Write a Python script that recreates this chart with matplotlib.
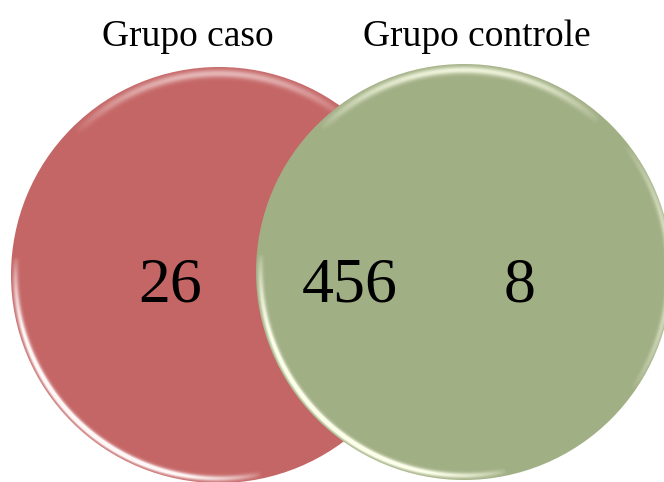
import numpy as np
import matplotlib.pyplot as plt
from matplotlib.patches import Circle

# conjuntos e contagens
grupos = ["Grupo caso", "Grupo controle"]
so_caso = 26
ambos = 456
so_controle = 8

cor_caso = "#C56666"
cor_controle = "#A1AF85"

W, H = 664, 482
fig = plt.figure(figsize=(W / 100, H / 100), dpi=100)
ax = fig.add_axes([0, 0, 1, 1])
ax.set_xlim(0, W)
ax.set_ylim(H, 0)
ax.set_aspect("equal")
ax.axis("off")

yy, xx = np.mgrid[0:H, 0:W] + 0.5


def brilho(cx, cy, r, faixas, cor):
    # faixa clara junto à borda (efeito de bisel), como imagem RGBA
    d = np.hypot(xx - cx, yy - cy)
    ang = np.degrees(np.arctan2(yy - cy, xx - cx)) % 360
    alfa = np.zeros_like(d)
    for t0, t1, recuo, larg, amax, expo in faixas:
        a = (ang - t0) % 360
        dentro = a <= (t1 - t0)
        perfil = np.where(dentro, np.sin(np.pi * np.clip(a / (t1 - t0), 0, 1)) ** expo, 0)
        radial = np.exp(-0.5 * ((d - (r - recuo)) / larg) ** 2)
        alfa = np.maximum(alfa, np.clip(amax * perfil * radial, 0, 1))
    img = np.zeros((H, W, 4))
    img[..., :3] = cor
    img[..., 3] = alfa
    return img


def circulo(cx, cy, r, cor, z, faixas, cor_brilho):
    disco = Circle((cx, cy), r, facecolor=cor, edgecolor="none", zorder=z)
    ax.add_patch(disco)
    im = ax.imshow(brilho(cx, cy, r, faixas, cor_brilho), extent=(0, W, H, 0),
                   interpolation="bilinear", zorder=z + 0.5)
    im.set_clip_path(disco)


r = 208
# (ângulo inicial, final, recuo, largura, alfa máx., expoente do perfil)
circulo(219, 275, r, cor_caso, 1,
        [(78, 185, 4.5, 2.0, 1.4, 0.6), (225, 310, 6.5, 2.8, 0.55, 0.7)], (1.0, 0.97, 0.97))
circulo(464, 272, r, cor_controle, 3,
        [(78, 185, 4.5, 2.0, 1.4, 0.6), (225, 312, 6.0, 2.6, 0.85, 0.7),
         (322, 395, 3.0, 2.0, 0.6, 0.7)],
        (0.99, 1.0, 0.92))

fonte = ["Liberation Serif", "DejaVu Serif"]
ax.text(188, 37, grupos[0], fontsize=27, family=fonte, ha="center", va="center", zorder=10)
ax.text(477, 37, grupos[1], fontsize=27, family=fonte, ha="center", va="center", zorder=10)

for x, v in [(170, so_caso), (350, ambos), (520, so_controle)]:
    ax.text(x, 287, str(v), fontsize=46, family=fonte, ha="center", va="center", zorder=10)

fig.savefig("out.png", dpi=100)
